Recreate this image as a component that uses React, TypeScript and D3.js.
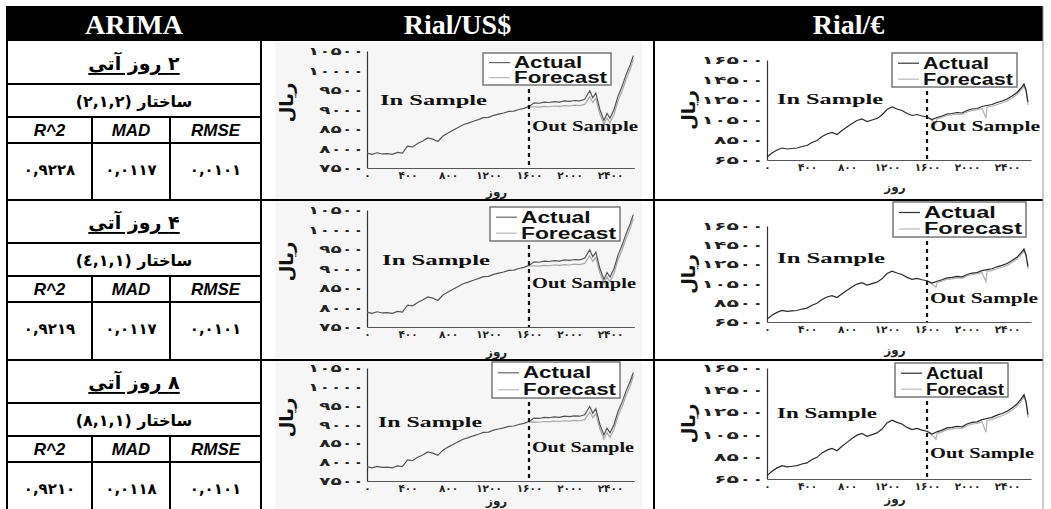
import React, { useEffect, useRef } from 'react';
import * as d3 from 'd3';

// table text
const columnTitles = ['ARIMA', 'Rial/US$', 'Rial/€'];
const horizons = ['۲ روز آتی', '۴ روز آتی', '۸ روز آتی'];
const structures = ['ساختار (۲,۱,۲)', 'ساختار (٤,١,١)', 'ساختار (۸,۱,۱)'];
const metricNames = ['R^2', 'MAD', 'RMSE'];
const r2Values = [0.9228, 0.9219, 0.921];
const madValues = [0.0117, 0.0117, 0.0118];
const rmseValues = [0.0101, 0.0101, 0.0101];

// chart ticks
const dayTicks = [0, 400, 800, 1200, 1600, 2000, 2400];
const usdTicks = [7500, 8000, 8500, 9000, 9500, 10000, 10500];
const eurTicks = [6500, 8500, 10500, 12500, 14500, 16500];
const splitDay = 1600;

// series: [day, rial]
const usdActual = [
  [0, 7880], [50, 7850], [100, 7890], [150, 7860], [200, 7870], [250, 7850], [300, 7900], [350, 7880],
  [400, 8060], [450, 8040], [500, 8130], [550, 8190], [600, 8270], [650, 8240], [700, 8180], [750, 8320],
  [800, 8400], [850, 8470], [900, 8540], [950, 8610], [1000, 8650], [1050, 8700], [1100, 8740], [1150, 8790],
  [1200, 8800], [1250, 8850], [1300, 8880], [1350, 8910], [1400, 8950], [1450, 8960], [1500, 9000], [1550, 9030],
  [1600, 9080], [1650, 9170], [1700, 9160], [1750, 9190], [1800, 9180], [1850, 9200], [1900, 9190], [1950, 9220],
  [2000, 9210], [2050, 9230], [2100, 9220], [2150, 9260], [2200, 9480], [2230, 9300], [2260, 9420], [2300, 9000],
  [2340, 8720], [2370, 8900], [2400, 8780], [2440, 9000], [2480, 9350], [2520, 9600], [2560, 9900], [2600, 10150],
  [2630, 10380],
];
const usdForecast = [
  [1600, 9060], [1650, 9070], [1700, 9060], [1750, 9080], [1800, 9070], [1850, 9090], [1900, 9080], [1950, 9100],
  [2000, 9090], [2050, 9110], [2100, 9100], [2150, 9130], [2200, 9330], [2230, 9180], [2260, 9280], [2300, 8880],
  [2340, 8620], [2370, 8780], [2400, 8660], [2440, 8880], [2480, 9230], [2520, 9480], [2560, 9780], [2600, 10030],
  [2630, 10280],
];
const eurActual = [
  [0, 6800], [50, 7200], [100, 7500], [150, 7700], [200, 7600], [250, 7650], [300, 7700], [350, 7850],
  [400, 7950], [450, 8250], [500, 8450], [550, 8850], [600, 9100], [650, 9250], [700, 9050], [750, 9450],
  [800, 9800], [850, 10150], [900, 10450], [950, 10600], [1000, 10350], [1050, 10500], [1100, 10650], [1150, 11000],
  [1200, 11550], [1250, 11800], [1300, 11600], [1350, 11450], [1400, 11150], [1450, 10950], [1500, 11050], [1550, 10900],
  [1600, 10800], [1650, 10550], [1700, 10750], [1750, 10900], [1800, 11100], [1850, 11150], [1900, 11250], [1950, 11200],
  [2000, 11450], [2050, 11600], [2100, 11650], [2150, 11850], [2200, 11950], [2250, 12050], [2300, 12250], [2350, 12400],
  [2400, 12600], [2450, 12900], [2500, 13250], [2540, 13700], [2570, 14100], [2590, 13500], [2610, 12300],
];
const eurForecast = [
  [1600, 10750], [1650, 10450], [1690, 10100], [1700, 10600], [1750, 10750], [1800, 10950], [1850, 11000], [1900, 11100],
  [1950, 11050], [2000, 11300], [2050, 11450], [2100, 11500], [2150, 11650], [2190, 10700], [2200, 11800], [2250, 11850],
  [2300, 12050], [2350, 12200], [2400, 12400], [2450, 12700], [2500, 13050], [2540, 13500], [2570, 13900], [2590, 13400],
  [2610, 12000],
];

// layout
const W = 1051;
const H = 509;
const colEdges = [7, 261, 654, 1043];
const metricEdges = [7, 92, 170, 261];
const headerTop = 6;
const headerBottom = 41;
const rowTops = [41, 200, 360];

const usdLayout = [
  { top: 10, bot: 127, legend: { x: 483, y: 12, w: 128, h: 32 }, inX: 380, inY: 59, inW: 107, outY: 85, outW: 106, dayY: 151 },
  { top: 10, bot: 127, legend: { x: 490, y: 7, w: 130, h: 34 }, inX: 382, inY: 60, inW: 108, outY: 83, outW: 104, dayY: 152 },
  { top: 8, bot: 121, legend: { x: 492, y: 2, w: 128, h: 36 }, inX: 378, inY: 62, inW: 104, outY: 87, outW: 102, dayY: 141 },
];
const eurLayout = [
  { top: 19, bot: 119, legend: { x: 892, y: 12, w: 125, h: 34 }, inX: 777, inY: 58, inW: 106, outY: 85, outW: 110, dayY: 146 },
  { top: 26, bot: 122, legend: { x: 893, y: 2, w: 133, h: 35 }, inX: 777, inY: 58, inW: 108, outY: 98, outW: 108, dayY: 150 },
  { top: 8, bot: 119, legend: { x: 895, y: 3, w: 113, h: 34 }, inX: 777, inY: 53, inW: 100, outY: 93, outW: 104, dayY: 139 },
];

const FA = 'DejaVu Sans, sans-serif';
const fa = (v: number | string) => String(v).replace(/[0-9]/g, d => '۰۱۲۳۴۵۶۷۸۹'[Number(d)]);
const faDecimal = (v: number) => fa(v.toFixed(4)).replace('.', ',');

function drawChart(svg: any, T: number, L: any, kind: 'usd' | 'eur') {
  const isUsd = kind === 'usd';
  const x0 = isUsd ? 367 : 767;
  const per = isUsd ? 243 : 240; // px per 2400 days
  const x = d3.scaleLinear().domain([0, 2640]).range([x0, x0 + (2640 / 2400) * per]);
  const y = d3.scaleLinear()
    .domain(isUsd ? [7500, 10500] : [6500, 16500])
    .range([T + L.bot, T + L.top]);
  const g = svg.append('g');

  if (isUsd) {
    g.append('rect').attr('x', 275).attr('y', T + 1).attr('width', 367).attr('height', 157).attr('fill', '#f6f6f6');
  }

  const glyphW = isUsd ? 11.2 : 12.5;
  const yAxis = g.append('g')
    .attr('transform', `translate(${x0},0)`)
    .call(d3.axisLeft(y).tickValues(isUsd ? usdTicks : eurTicks).tickFormat((v: any) => fa(v)).tickSize(0).tickPadding(3));
  yAxis.select('.domain').attr('stroke', '#333').attr('stroke-width', 1.2);
  yAxis.selectAll('text')
    .attr('font-family', FA).attr('font-weight', 'bold').attr('font-size', 11).attr('fill', '#222')
    .attr('lengthAdjust', 'spacingAndGlyphs')
    .attr('textLength', (v: any) => String(v).length * glyphW);

  const xAxis = g.append('g')
    .attr('transform', `translate(0,${T + L.bot})`)
    .call(d3.axisBottom(x).tickValues(dayTicks).tickFormat((v: any) => fa(v)).tickSize(0).tickPadding(4));
  xAxis.select('.domain').attr('stroke', '#555').attr('stroke-width', 1.2);
  xAxis.selectAll('text').attr('font-family', FA).attr('font-weight', 'bold').attr('font-size', 10.5).attr('fill', '#222');

  const line = d3.line<number[]>().x(d => x(d[0])).y(d => y(d[1]));
  g.append('path').datum(isUsd ? usdForecast : eurForecast).attr('d', line)
    .attr('fill', 'none').attr('stroke', isUsd ? '#a8a8a8' : '#b0b0b0').attr('stroke-width', 1.2);
  g.append('path').datum(isUsd ? usdActual : eurActual).attr('d', line)
    .attr('fill', 'none').attr('stroke', isUsd ? '#555' : '#2a2a2a').attr('stroke-width', 1.2);

  // in / out sample split
  const lg = L.legend;
  const sx = x(splitDay);
  g.append('line').attr('x1', sx).attr('x2', sx)
    .attr('y1', T + lg.y + lg.h + 4).attr('y2', T + L.bot)
    .attr('stroke', '#111').attr('stroke-width', 2.2).attr('stroke-dasharray', '4,4');

  g.append('text').attr('x', L.inX).attr('y', T + L.inY)
    .attr('dominant-baseline', 'central').attr('font-family', 'Liberation Serif, serif').attr('font-weight', 'bold')
    .attr('font-size', 15).attr('textLength', L.inW).attr('lengthAdjust', 'spacingAndGlyphs').attr('fill', '#111')
    .text('In Sample');
  g.append('text').attr('x', sx + 3).attr('y', T + L.outY)
    .attr('dominant-baseline', 'central').attr('font-family', 'Liberation Serif, serif').attr('font-weight', 'bold')
    .attr('font-size', 15).attr('textLength', L.outW).attr('lengthAdjust', 'spacingAndGlyphs').attr('fill', '#111')
    .text('Out Sample');

  // legend
  g.append('rect').attr('x', lg.x).attr('y', T + lg.y).attr('width', lg.w).attr('height', lg.h)
    .attr('fill', '#fff').attr('stroke', '#777').attr('stroke-width', 1.5);
  const entries = [
    { name: 'Actual', color: isUsd ? '#666' : '#333', frac: 0.3, len: 0.733 },
    { name: 'Forecast', color: '#bbb', frac: 0.77, len: 1 },
  ];
  entries.forEach(e => {
    const ly = T + lg.y + lg.h * e.frac;
    g.append('line').attr('x1', lg.x + 6).attr('x2', lg.x + 27).attr('y1', ly).attr('y2', ly)
      .attr('stroke', e.color).attr('stroke-width', 1.2);
    g.append('text').attr('x', lg.x + 31).attr('y', ly).attr('dominant-baseline', 'central')
      .attr('font-family', 'Liberation Sans, Arial, sans-serif').attr('font-weight', 'bold').attr('font-size', 16)
      .attr('textLength', (lg.w - 35) * e.len).attr('lengthAdjust', 'spacingAndGlyphs').attr('fill', '#111')
      .text(e.name);
  });

  // axis titles
  const rx = isUsd ? 286 : 688;
  const ry = T + (L.top + L.bot) / 2 - (isUsd ? 7 : 0);
  g.append('text').attr('transform', `translate(${rx},${ry}) rotate(-90)`)
    .attr('text-anchor', 'middle').attr('dominant-baseline', 'central').attr('direction', 'rtl')
    .attr('font-family', FA).attr('font-weight', 'bold').attr('font-size', 18).attr('fill', '#111')
    .text('ریال');
  g.append('text').attr('x', (x(0) + x(2640)) / 2 - 4).attr('y', T + L.dayY)
    .attr('text-anchor', 'middle').attr('dominant-baseline', 'central').attr('direction', 'rtl')
    .attr('font-family', FA).attr('font-weight', 'bold').attr('font-size', 12).attr('fill', '#222')
    .text('روز');
}

export default function App() {
  const ref = useRef<SVGSVGElement>(null);

  useEffect(() => {
    const svg = d3.select(ref.current);
    svg.selectAll('*').remove();
    svg.append('rect').attr('width', W).attr('height', H).attr('fill', '#fff');

    rowTops.forEach((T, i) => {
      drawChart(svg, T, usdLayout[i], 'usd');
      drawChart(svg, T, eurLayout[i], 'eur');
    });

    // header band
    svg.append('rect').attr('x', colEdges[0]).attr('y', headerTop)
      .attr('width', colEdges[3] - colEdges[0]).attr('height', headerBottom - headerTop).attr('fill', '#000');
    columnTitles.forEach((t, i) => {
      svg.append('text').attr('x', (colEdges[i] + colEdges[i + 1]) / 2).attr('y', (headerTop + headerBottom) / 2 + 1)
        .attr('text-anchor', 'middle').attr('dominant-baseline', 'central')
        .attr('font-family', 'Liberation Serif, serif').attr('font-weight', 'bold').attr('font-size', 28)
        .attr('fill', '#fff').text(t);
    });

    const lines = svg.append('g').attr('stroke', '#000').attr('stroke-width', 2);
    // verticals
    lines.append('line').attr('x1', colEdges[0]).attr('x2', colEdges[0]).attr('y1', headerTop).attr('y2', H);
    lines.append('line').attr('x1', colEdges[1]).attr('x2', colEdges[1]).attr('y1', headerBottom).attr('y2', H);
    lines.append('line').attr('x1', colEdges[2]).attr('x2', colEdges[2]).attr('y1', headerBottom).attr('y2', H);
    svg.append('line').attr('x1', colEdges[3]).attr('x2', colEdges[3]).attr('y1', headerTop).attr('y2', H)
      .attr('stroke', '#999').attr('stroke-width', 1);

    rowTops.forEach((T, i) => {
      if (i > 0) {
        lines.append('line').attr('x1', colEdges[0]).attr('x2', colEdges[3]).attr('y1', T).attr('y2', T);
      }
      [43, 76, 102].forEach(o => {
        lines.append('line').attr('x1', colEdges[0]).attr('x2', colEdges[1]).attr('y1', T + o).attr('y2', T + o);
      });
      [metricEdges[1], metricEdges[2]].forEach(mx => {
        lines.append('line').attr('x1', mx).attr('x2', mx).attr('y1', T + 76).attr('y2', T + 160);
      });

      const cx = (colEdges[0] + colEdges[1]) / 2;
      svg.append('text').attr('x', cx).attr('y', T + 22)
        .attr('text-anchor', 'middle').attr('dominant-baseline', 'central').attr('direction', 'rtl')
        .attr('font-family', FA).attr('font-weight', 'bold').attr('font-size', 19)
        .attr('text-decoration', 'underline').text(horizons[i]);
      svg.append('text').attr('x', cx).attr('y', T + 60)
        .attr('text-anchor', 'middle').attr('dominant-baseline', 'central').attr('direction', 'rtl')
        .attr('font-family', FA).attr('font-weight', 'bold').attr('font-size', 16).text(structures[i]);

      const vals = [faDecimal(r2Values[i]), faDecimal(madValues[i]), faDecimal(rmseValues[i])];
      metricNames.forEach((m, j) => {
        const mx = (metricEdges[j] + metricEdges[j + 1]) / 2;
        svg.append('text').attr('x', mx).attr('y', T + 89)
          .attr('text-anchor', 'middle').attr('dominant-baseline', 'central')
          .attr('font-family', 'Liberation Sans, Arial, sans-serif').attr('font-weight', 'bold')
          .attr('font-style', 'italic').attr('font-size', 17).text(m);
        svg.append('text').attr('x', mx).attr('y', T + 129)
          .attr('text-anchor', 'middle').attr('dominant-baseline', 'central')
          .attr('font-family', FA).attr('font-weight', 'bold').attr('font-size', 15).text(vals[j]);
      });
    });
  }, []);

  return (
    <svg
      ref={ref}
      width={W}
      height={H}
      style={{ position: 'absolute', left: 0, top: 0, display: 'block' }}
    />
  );
}
